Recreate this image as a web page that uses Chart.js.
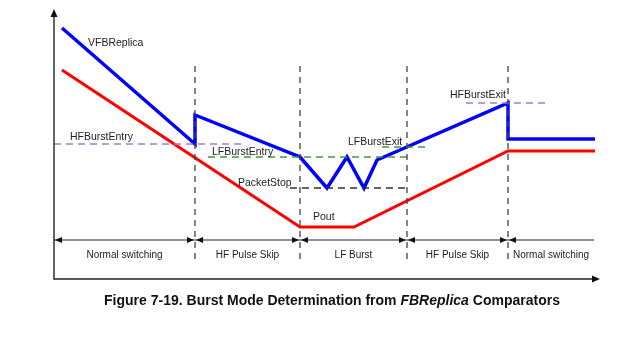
<!DOCTYPE html>
<html>
<head>
<meta charset="utf-8">
<script src="https://cdn.jsdelivr.net/npm/chart.js@4/dist/chart.umd.min.js"></script>
<style>
  body { margin: 0; background: #fff; }
  #wrap { position: relative; width: 640px; height: 337px; }
  #caption {
    position: absolute; left: 0; top: 292px; width: 664px;
    text-align: center; font: bold 14px "Liberation Sans", Arial, sans-serif; color: #111;
  }
</style>
</head>
<body>
<div id="wrap">
  <canvas id="burstChart" width="640" height="337"></canvas>
  <div id="caption">Figure 7-19. Burst Mode Determination from <i>FBReplica</i> Comparators</div>
</div>
<script>
// time axis (arbitrary units) and signal level (arbitrary units)
const T_MAX = 546;
const V_MAX = 270;

// VFBReplica trace
const replicaT = [8, 141, 141, 246, 273, 293, 310, 323, 454, 454, 541];
const replicaV = [251, 135, 164, 122, 91, 122, 91, 119, 176, 140, 140];

// output power trace
const poutT = [8, 246, 300, 454, 541];
const poutV = [209, 52, 52, 128, 128];

// comparator thresholds: level and the span each one is drawn over
const thresholdNames = ['HFBurstEntry', 'LFBurstEntry', 'LFBurstExit', 'PacketStop', 'HFBurstExit'];
const thresholdLevels = [135, 122, 132, 91, 176];
const thresholdFrom = [0, 154, 328, 236, 412];
const thresholdTo = [190, 353, 374, 353, 494];

// operating modes and the times where they change
const modeBounds = [0, 141, 246, 353, 454, 540];
const modeNames = ['Normal switching', 'HF Pulse Skip', 'LF Burst', 'HF Pulse Skip', 'Normal switching'];

// text labels: [text, t, v]
const labels = [
  ['VFBReplica', 34, 236],
  ['HFBurstEntry', 16, 142],
  ['LFBurstEntry', 158, 127],
  ['LFBurstExit', 294, 137],
  ['PacketStop', 184, 96],
  ['HFBurstExit', 396, 184],
  ['Pout', 259, 62]
];

const thresholdColors = {
  HFBurstEntry: '#a57bd0', HFBurstExit: '#a57bd0',
  LFBurstEntry: '#3f9a3f', LFBurstExit: '#3f9a3f',
  PacketStop: '#333333'
};

const toPoints = (xs, ys) => xs.map((x, i) => ({ x: x, y: ys[i] }));

const datasets = [];

// mode boundaries
modeBounds.slice(1, 5).forEach(t => {
  datasets.push({
    data: [{ x: t, y: 20 }, { x: t, y: 214 }],
    showLine: true, borderColor: '#444', borderWidth: 1.3, borderDash: [6, 5],
    pointRadius: 0
  });
});

thresholdNames.forEach((name, i) => {
  datasets.push({
    data: [{ x: thresholdFrom[i], y: thresholdLevels[i] }, { x: thresholdTo[i], y: thresholdLevels[i] }],
    showLine: true, borderColor: thresholdColors[name], borderWidth: 1.3, borderDash: [7, 5],
    pointRadius: 0
  });
});

datasets.push({
  data: toPoints(poutT, poutV),
  showLine: true, borderColor: '#ff0000', borderWidth: 3, pointRadius: 0
});
datasets.push({
  data: toPoints(replicaT, replicaV),
  showLine: true, borderColor: '#0000ff', borderWidth: 3.5, pointRadius: 0
});

function arrowHead(ctx, x, y, dir, len, half) {
  ctx.beginPath();
  if (dir === 'up') {
    ctx.moveTo(x, y); ctx.lineTo(x - half, y + len); ctx.lineTo(x + half, y + len);
  } else if (dir === 'right') {
    ctx.moveTo(x, y); ctx.lineTo(x - len, y - half); ctx.lineTo(x - len, y + half);
  } else {
    ctx.moveTo(x, y); ctx.lineTo(x + len, y - half); ctx.lineTo(x + len, y + half);
  }
  ctx.closePath();
  ctx.fill();
}

const diagramPlugin = {
  id: 'diagram',
  afterDatasetsDraw(chart) {
    const ctx = chart.ctx;
    const xs = chart.scales.x, ys = chart.scales.y;
    const px = v => xs.getPixelForValue(v);
    const py = v => ys.getPixelForValue(v);
    ctx.save();

    // axes with arrow tips
    ctx.strokeStyle = '#222';
    ctx.fillStyle = '#111';
    ctx.lineWidth = 1.4;
    ctx.beginPath();
    ctx.moveTo(px(0), py(V_MAX) + 4);
    ctx.lineTo(px(0), py(0));
    ctx.lineTo(px(T_MAX) - 4, py(0));
    ctx.stroke();
    arrowHead(ctx, px(0), py(V_MAX), 'up', 8, 3.5);
    arrowHead(ctx, px(T_MAX), py(0), 'right', 8, 3.5);

    // mode dimension line
    const rowV = 39;
    ctx.lineWidth = 1.2;
    ctx.beginPath();
    ctx.moveTo(px(modeBounds[0]), py(rowV));
    ctx.lineTo(px(modeBounds[5]), py(rowV));
    ctx.stroke();
    for (let i = 0; i < 5; i++) {
      const a = px(modeBounds[i]), b = px(modeBounds[i + 1]);
      arrowHead(ctx, a + 1, py(rowV), 'left', 7, 3);
      if (i < 4) arrowHead(ctx, b - 1, py(rowV), 'right', 7, 3);
    }

    // mode names
    ctx.fillStyle = '#222';
    ctx.font = '10px "Liberation Sans", Arial, sans-serif';
    ctx.textAlign = 'center';
    ctx.textBaseline = 'middle';
    modeNames.forEach((name, i) => {
      ctx.fillText(name, px((modeBounds[i] + modeBounds[i + 1]) / 2), py(24));
    });

    // signal and threshold labels
    ctx.font = '10.5px "Liberation Sans", Arial, sans-serif';
    ctx.textAlign = 'left';
    labels.forEach(([text, t, v]) => ctx.fillText(text, px(t), py(v)));

    ctx.restore();
  }
};

new Chart(document.getElementById('burstChart'), {
  type: 'scatter',
  data: { datasets: datasets },
  options: {
    responsive: false,
    animation: false,
    layout: { padding: { left: 54, right: 40, top: 9, bottom: 58 } },
    scales: {
      x: { type: 'linear', min: 0, max: T_MAX, display: false },
      y: { type: 'linear', min: 0, max: V_MAX, display: false }
    },
    plugins: { legend: { display: false }, tooltip: { enabled: false } },
    elements: { line: { borderCapStyle: 'butt', borderJoinStyle: 'miter' } }
  },
  plugins: [diagramPlugin]
});
</script>
</body>
</html>
